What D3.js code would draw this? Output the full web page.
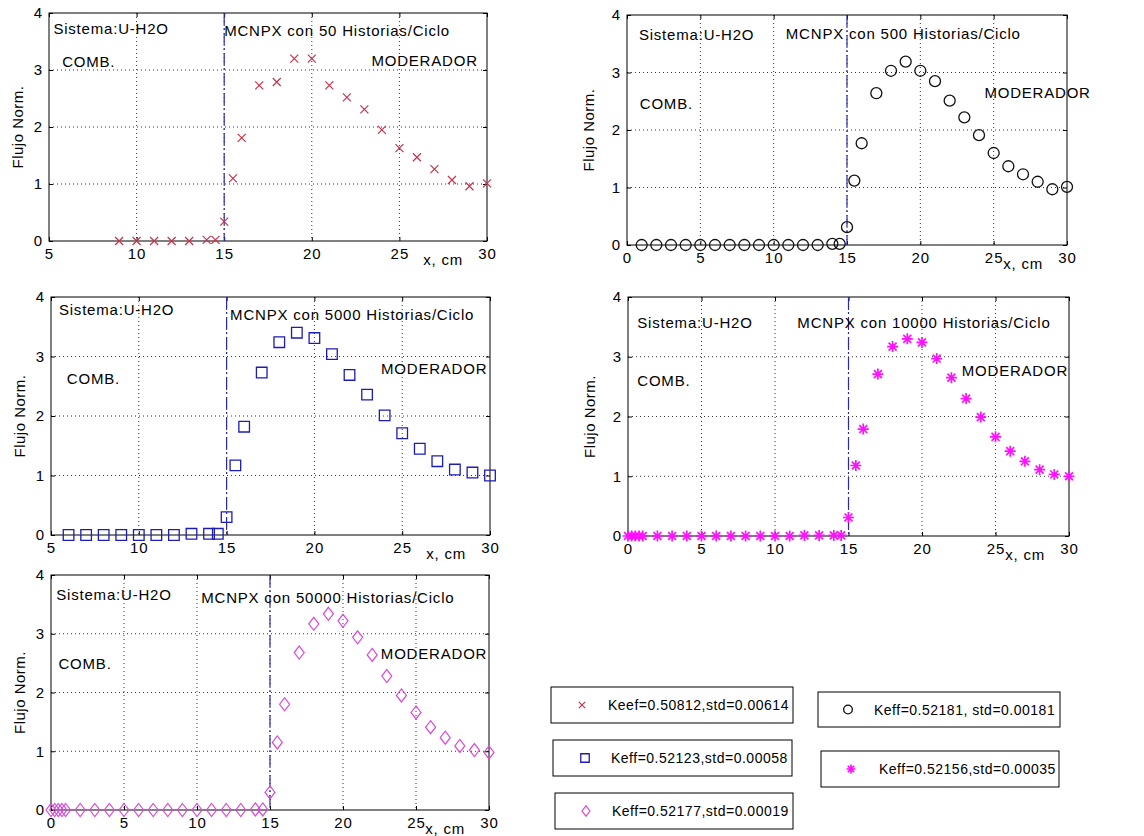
<!DOCTYPE html>
<html>
<head>
<meta charset="utf-8">
<script src="https://cdn.jsdelivr.net/npm/d3@7"></script>
<style>
  body { margin: 0; background: #fff; }
  text { font-family: "Liberation Sans", Arial, Helvetica, sans-serif; fill: #000; }
</style>
</head>
<body>
<svg id="chart" width="1144" height="836"></svg>
<script>
// ---- data (flux normalised vs x in cm) ----
const x50 = [9, 10, 11, 12, 13, 14, 14.5, 15, 15.5, 16, 17, 18, 19, 20, 21, 22, 23, 24, 25, 26, 27, 28, 29, 30];
const y50 = [0, 0, 0, 0, 0, 0.02, 0.02, 0.34, 1.10, 1.81, 2.73, 2.79, 3.20, 3.20, 2.73, 2.52, 2.31, 1.95, 1.63, 1.47, 1.26, 1.07, 0.96, 1.01];

const x500 = [1, 2, 3, 4, 5, 6, 7, 8, 9, 10, 11, 12, 13, 14, 14.5, 15, 15.5, 16, 17, 18, 19, 20, 21, 22, 23, 24, 25, 26, 27, 28, 29, 30];
const y500 = [0, 0, 0, 0, 0, 0, 0, 0, 0, 0, 0, 0, 0, 0.02, 0.02, 0.31, 1.12, 1.77, 2.64, 3.03, 3.19, 3.03, 2.85, 2.51, 2.22, 1.91, 1.60, 1.37, 1.23, 1.10, 0.97, 1.01];

const x5000 = [6, 7, 8, 9, 10, 11, 12, 13, 14, 14.5, 15, 15.5, 16, 17, 18, 19, 20, 21, 22, 23, 24, 25, 26, 27, 28, 29, 30];
const y5000 = [0, 0, 0, 0, 0, 0, 0, 0.02, 0.02, 0.02, 0.30, 1.17, 1.82, 2.73, 3.24, 3.40, 3.31, 3.04, 2.69, 2.36, 2.01, 1.71, 1.45, 1.24, 1.10, 1.05, 1.00];

const x10000 = [0, 0.25, 0.5, 0.75, 1, 2, 3, 4, 5, 6, 7, 8, 9, 10, 11, 12, 13, 14, 14.5, 15, 15.5, 16, 17, 18, 19, 20, 21, 22, 23, 24, 25, 26, 27, 28, 29, 30];
const y10000 = [0, 0, 0, 0, 0, 0, 0, 0, 0, 0, 0, 0, 0, 0, 0, 0.01, 0.01, 0.01, 0.01, 0.31, 1.18, 1.79, 2.71, 3.17, 3.30, 3.24, 2.97, 2.65, 2.30, 1.99, 1.66, 1.42, 1.25, 1.11, 1.03, 1.00];

const x50000 = [0, 0.25, 0.5, 0.75, 1, 2, 3, 4, 5, 6, 7, 8, 9, 10, 11, 12, 13, 14, 14.5, 15, 15.5, 16, 17, 18, 19, 20, 21, 22, 23, 24, 25, 26, 27, 28, 29, 30];
const y50000 = [0, 0, 0, 0, 0, 0, 0, 0, 0, 0, 0, 0, 0, 0, 0, 0, 0, 0.01, 0.01, 0.30, 1.15, 1.80, 2.68, 3.17, 3.34, 3.22, 2.94, 2.64, 2.28, 1.95, 1.66, 1.41, 1.23, 1.09, 1.02, 0.98];

const historias = ["50", "500", "5000", "10000", "50000"];
const xStart = [5, 0, 5, 0, 0];
const yTicks = [0, 1, 2, 3, 4];
const interfaceX = 15;

const legendLabels = [
    "Keef=0.50812,std=0.00614",
    "Keff=0.52181, std=0.00181",
    "Keff=0.52123,std=0.00058",
    "Keff=0.52156,std=0.00035",
    "Keff=0.52177,std=0.00019"
];

// ---- look ----
const MARKER_COLORS = ["#c4344c", "#111111", "#1c1cb8", "#ff10ff", "#d84ad8"];
const MARKERS = ["times", "circle", "square", "star", "diamond"];
const MARKER_WIDTH = [1.2, 1.3, 1.3, 1.7, 1.2];
const INTERFACE_COLOR = "#2a2aa8";
const FONT_SIZE = 15;

// axes boxes in page pixels, and where the annotations sit (fractions of the box)
const boxes = [
    {left: 49, right: 487, top: 13, bottom: 241, ylab: 31},
    {left: 627, right: 1067, top: 15, bottom: 245, ylab: 38},
    {left: 51, right: 490, top: 297, bottom: 535, ylab: 31},
    {left: 628, right: 1069, top: 297, bottom: 536, ylab: 38},
    {left: 51, right: 489, top: 575, bottom: 810, ylab: 31}
];
const notes = [
    {sis: [0.010, 0.069], mc: [0.400, 0.076], comb: [0.030, 0.211], mod: [0.979, 0.207]},
    {sis: [0.027, 0.084], mc: [0.361, 0.080], comb: [0.029, 0.385], mod: [1.054, 0.336]},
    {sis: [0.018, 0.052], mc: [0.408, 0.074], comb: [0.036, 0.343], mod: [0.994, 0.301]},
    {sis: [0.021, 0.107], mc: [0.384, 0.107], comb: [0.021, 0.351], mod: [0.998, 0.310]},
    {sis: [0.012, 0.085], mc: [0.343, 0.095], comb: [0.017, 0.376], mod: [0.996, 0.333]}
];
const legendBoxes = [
    {x: 551, y: 687, w: 242, h: 36, mx: 582, tx: 608},
    {x: 818, y: 692, w: 242, h: 35, mx: 848, tx: 874},
    {x: 553, y: 740, w: 239, h: 36, mx: 585, tx: 611},
    {x: 821, y: 751, w: 238, h: 36, mx: 851, tx: 879},
    {x: 555, y: 793, w: 238, h: 36, mx: 586, tx: 612}
];
const legendKinds = ["times", "circle", "square", "star", "diamond"];

const series = [
    {x: x50, y: y50},
    {x: x500, y: y500},
    {x: x5000, y: y5000},
    {x: x10000, y: y10000},
    {x: x50000, y: y50000}
];

// marker path centred on 0,0; s is half size
function markerPath(kind, s) {
    const p = d3.path();
    if (kind === "times") {
        p.moveTo(-s, -s); p.lineTo(s, s);
        p.moveTo(-s, s); p.lineTo(s, -s);
    } else if (kind === "circle") {
        p.moveTo(s, 0); p.arc(0, 0, s, 0, 2 * Math.PI);
    } else if (kind === "square") {
        p.rect(-s, -s, 2 * s, 2 * s);
    } else if (kind === "star") {
        const d = s * 0.72;
        p.moveTo(-s, 0); p.lineTo(s, 0);
        p.moveTo(0, -s); p.lineTo(0, s);
        p.moveTo(-d, -d); p.lineTo(d, d);
        p.moveTo(-d, d); p.lineTo(d, -d);
    } else if (kind === "diamond") {
        const h = s * 1.3;
        p.moveTo(0, -h); p.lineTo(s, 0); p.lineTo(0, h); p.lineTo(-s, 0); p.closePath();
    }
    return p.toString();
}

const markerSize = {times: 4, circle: 5.5, square: 5.3, star: 5.5, diamond: 5};

const svg = d3.select("#chart");

function drawPanel(i) {
    const b = boxes[i];
    const n = notes[i];
    const data = series[i].x.map((xv, k) => ({x: xv, y: series[i].y[k]}));

    const xScale = d3.scaleLinear().domain([xStart[i], 30]).range([b.left, b.right]);
    const yScale = d3.scaleLinear().domain([0, 4]).range([b.bottom, b.top]);
    const xTicks = d3.range(xStart[i], 30.1, 5);

    const g = svg.append("g");

    // dotted grid
    g.selectAll("line.vgrid")
        .data(xTicks.slice(1, -1))
        .join("line")
        .attr("x1", d => xScale(d)).attr("x2", d => xScale(d))
        .attr("y1", b.top).attr("y2", b.bottom)
        .attr("stroke", "#333").attr("stroke-width", 1).attr("stroke-dasharray", "1,3");
    g.selectAll("line.hgrid")
        .data(yTicks.slice(1, -1))
        .join("line")
        .attr("x1", b.left).attr("x2", b.right)
        .attr("y1", d => yScale(d)).attr("y2", d => yScale(d))
        .attr("stroke", "#333").attr("stroke-width", 1).attr("stroke-dasharray", "1,3");

    // axes with inward ticks
    const bottomAxis = g.append("g")
        .attr("transform", `translate(0,${b.bottom})`)
        .call(d3.axisBottom(xScale).tickValues(xTicks).tickSize(-4).tickPadding(7).tickFormat(d3.format("d")));
    const leftAxis = g.append("g")
        .attr("transform", `translate(${b.left},0)`)
        .call(d3.axisLeft(yScale).tickValues(yTicks).tickSize(-4).tickPadding(6).tickFormat(d3.format("d")));
    g.append("g")
        .attr("transform", `translate(0,${b.top})`)
        .call(d3.axisTop(xScale).tickValues(xTicks).tickSize(-4).tickFormat(""));
    g.append("g")
        .attr("transform", `translate(${b.right},0)`)
        .call(d3.axisRight(yScale).tickValues(yTicks).tickSize(-4).tickFormat(""));
    g.selectAll(".domain").remove();
    g.selectAll(".tick line").attr("stroke", "#000");
    [bottomAxis, leftAxis].forEach(a => a.selectAll("text")
        .attr("fill", "#000")
        .style("font-size", FONT_SIZE + "px")
        .style("letter-spacing", "1px")
        .style("font-family", "\"Liberation Sans\", Arial, sans-serif"));

    // frame
    g.append("rect")
        .attr("x", b.left).attr("y", b.top)
        .attr("width", b.right - b.left).attr("height", b.bottom - b.top)
        .attr("fill", "none").attr("stroke", "#000").attr("stroke-width", 1);

    // fuel / moderator interface
    g.append("line")
        .attr("x1", xScale(interfaceX)).attr("x2", xScale(interfaceX))
        .attr("y1", yScale(4)).attr("y2", yScale(0))
        .attr("stroke", INTERFACE_COLOR).attr("stroke-width", 1.2)
        .attr("stroke-dasharray", "12,3,2,3");

    // points
    const kind = MARKERS[i];
    g.selectAll("path.pt")
        .data(data)
        .join("path")
        .attr("class", "pt")
        .attr("transform", d => `translate(${xScale(d.x)},${yScale(d.y)})`)
        .attr("d", markerPath(kind, markerSize[kind]))
        .attr("fill", "none")
        .attr("stroke", MARKER_COLORS[i])
        .attr("stroke-width", MARKER_WIDTH[i]);

    // annotations
    const w = b.right - b.left, h = b.bottom - b.top;
    const note = (txt, pos, anchor) => g.append("text")
        .attr("x", b.left + pos[0] * w)
        .attr("y", b.top + pos[1] * h)
        .attr("dy", "0.36em")
        .attr("text-anchor", anchor)
        .style("font-size", FONT_SIZE + "px")
        .style("letter-spacing", "0.8px")
        .text(txt);
    note("Sistema:U-H2O", n.sis, "start");
    note(`MCNPX con ${historias[i]} Historias/Ciclo`, n.mc, "start");
    note("COMB.", n.comb, "start");
    note("MODERADOR", n.mod, "end");

    // axis labels
    g.append("text")
        .attr("transform", `translate(${b.left - b.ylab},${(b.top + b.bottom) / 2}) rotate(-90)`)
        .attr("text-anchor", "middle")
        .attr("dy", "0.36em")
        .style("font-size", FONT_SIZE + "px")
        .style("letter-spacing", "0.5px")
        .text("Flujo Norm.");
    g.append("text")
        .attr("x", b.right - 24)
        .attr("y", b.bottom + 24)
        .attr("text-anchor", "end")
        .style("font-size", FONT_SIZE + "px")
        .style("letter-spacing", "0.8px")
        .text("x, cm");
}

d3.range(5).forEach(drawPanel);

// legend boxes
legendBoxes.forEach((lb, k) => {
    const kind = legendKinds[k];
    const colorIdx = MARKERS.indexOf(kind);
    const g = svg.append("g");
    g.append("rect")
        .attr("x", lb.x).attr("y", lb.y).attr("width", lb.w).attr("height", lb.h)
        .attr("fill", "#fff").attr("stroke", "#000").attr("stroke-width", 1);
    g.append("path")
        .attr("transform", `translate(${lb.mx},${lb.y + lb.h / 2})`)
        .attr("d", markerPath(kind, markerSize[kind] * 0.8))
        .attr("fill", "none")
        .attr("stroke", MARKER_COLORS[colorIdx])
        .attr("stroke-width", MARKER_WIDTH[colorIdx]);
    g.append("text")
        .attr("x", lb.tx)
        .attr("y", lb.y + lb.h / 2)
        .attr("dy", "0.36em")
        .style("font-size", "14px")
        .style("letter-spacing", "0.5px")
        .text(legendLabels[k]);
});
</script>
</body>
</html>
